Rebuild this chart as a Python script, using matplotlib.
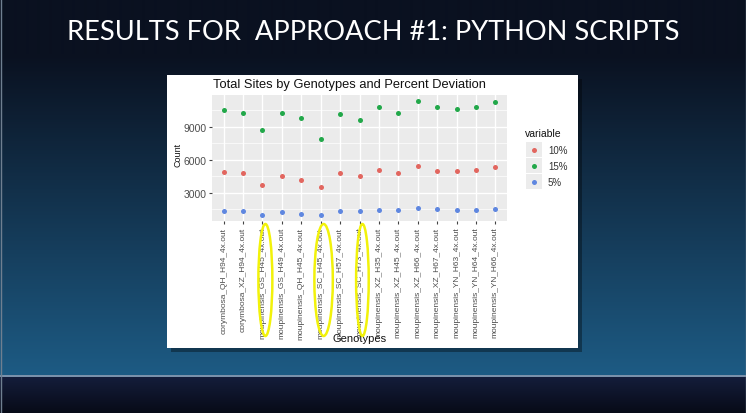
import numpy as np
import matplotlib
matplotlib.use('Agg')
import matplotlib.pyplot as plt
from matplotlib.patches import Rectangle, Ellipse
from matplotlib.transforms import blended_transform_factory
from matplotlib.colors import to_rgb

W, H = 746, 414

genotypes = ['corymbosa_QH_H94_4x.out', 'corymbosa_XZ_H94_4x.out',
             'moupinensis_GS_H45_4x.out', 'moupinensis_GS_H49_4x.out',
             'moupinensis_QH_H45_4x.out', 'moupinensis_SC_H45_4x.out',
             'moupinensis_SC_H57_4x.out', 'moupinensis_SC_H73_4x.out',
             'moupinensis_XZ_H35_4x.out', 'moupinensis_XZ_H45_4x.out',
             'moupinensis_XZ_H66_4x.out', 'moupinensis_XZ_H67_4x.out',
             'moupinensis_YN_H63_4x.out', 'moupinensis_YN_H64_4x.out',
             'moupinensis_YN_H66_4x.out']

pct_10 = [4920, 4770, 3700, 4520, 4190, 3550, 4830, 4490, 5070, 4830, 5470, 4950, 4950, 5070, 5310]
pct_15 = [10490, 10250, 8700, 10250, 9730, 7870, 10130, 9550, 10770, 10250, 11340, 10740, 10580, 10740, 11250]
pct_5 = [1320, 1350, 990, 1230, 1110, 960, 1380, 1320, 1410, 1410, 1600, 1540, 1450, 1450, 1540]

series_names = ['10%', '15%', '5%']
series_vals = [pct_10, pct_15, pct_5]
series_cols = ['#e2665f', '#22a84a', '#5f87e0']

y_ticks = [3000, 6000, 9000]
circled = [2, 5, 7]

plt.rcParams['font.family'] = ['Liberation Sans', 'DejaVu Sans']

fig = plt.figure(figsize=(W / 100, H / 100), dpi=100)

# slide background (pixel coordinates)
bg = fig.add_axes([0, 0, 1, 1])
bg.set_xlim(0, W)
bg.set_ylim(H, 0)
bg.axis('off')

top = np.array(to_rgb('#0a1120'))
mid = np.array(to_rgb('#1d5b84'))
band_top = np.array(to_rgb('#141d3b'))
band_bot = np.array(to_rgb('#070a16'))
grad = np.zeros((H, 1, 3))
for r in range(H):
    if r < 55:
        grad[r, 0] = top
    elif r < 376:
        t = (r - 55) / (376 - 55)
        grad[r, 0] = top + (mid - top) * t
    else:
        t = (r - 378) / (H - 378)
        grad[r, 0] = band_top + (band_bot - band_top) * max(t, 0)
bg.imshow(grad, extent=(0, W, H, 0), aspect='auto', interpolation='bilinear')
bg.plot([0, W], [376.8, 376.8], color='#8fa9c2', lw=1.2)
bg.plot([0.5, 0.5], [0, H], color='#6f7f90', lw=1)
bg.plot([W - 0.5, W - 0.5], [0, H], color='#6f7f90', lw=1)

bg.text(W / 2 + 0.5, 32, 'RESULTS FOR  APPROACH #1: PYTHON SCRIPTS', color='white',
        ha='center', va='center', fontsize=19.6, family=['Lato', 'DejaVu Sans'])

# white picture box with shadow
bg.add_patch(Rectangle((171, 80), 411, 273, color='black', alpha=0.35, lw=0))
bg.add_patch(Rectangle((167, 76), 411, 273, color='white', lw=0))

bg.text(213, 85, 'Total Sites by Genotypes and Percent Deviation', ha='left',
        va='center', fontsize=9.3, color='#111111')
bg.text(359.5, 339, 'Genotypes', ha='center', va='center', fontsize=8, color='#111111')
bg.text(178, 155, 'Count', ha='center', va='center', rotation=90, fontsize=6.5,
        color='#111111')

# legend
bg.text(525, 134, 'variable', ha='left', va='center', fontsize=7.5, color='#111111')
for i, (name, col) in enumerate(zip(series_names, series_cols)):
    yc = 150.7 + 16 * i
    bg.add_patch(Rectangle((525.5, yc - 7.5), 16, 15, color='#ececec', lw=0))
    bg.plot([533.5], [yc], 'o', ms=3.6, color=col, mec='none')
    bg.text(548, yc, name, ha='left', va='center', fontsize=7, color='#333333')

# chart panel
ax = fig.add_axes([212 / W, 1 - 222 / H, 295 / W, 126 / H])
ax.set_facecolor('#EBEBEB')
for s in ax.spines.values():
    s.set_visible(False)

x = np.arange(len(genotypes))
for vals, col in zip(series_vals, series_cols):
    ax.scatter(x, vals, s=13, color=col, linewidths=0, zorder=3)

all_vals = np.concatenate(series_vals)
lo, hi = all_vals.min(), all_vals.max()
pad = 0.05 * (hi - lo)
ax.set_ylim(lo - pad, hi + pad)
ax.set_xlim(-0.6, len(genotypes) - 0.4)

ax.set_yticks(y_ticks)
ax.set_yticklabels([str(v) for v in y_ticks])
ax.set_yticks([1500, 4500, 7500, 10500], minor=True)
ax.set_xticks(x)
ax.set_xticklabels(genotypes, rotation=90, fontsize=6)
ax.tick_params(axis='both', which='major', length=2.5, width=0.8, color='#444444',
               labelcolor='#4D4D4D', pad=1.5)
ax.tick_params(axis='y', labelsize=7.5)
ax.tick_params(which='minor', length=0)
ax.grid(True, which='major', color='white', lw=1.0)
ax.grid(True, which='minor', axis='y', color='white', lw=0.5)
ax.set_axisbelow(True)

# yellow rings around highlighted labels
tr = blended_transform_factory(ax.transData, bg.transData)
for idx, w in zip(circled, [0.72, 0.95, 0.65]):
    ax.add_patch(Ellipse((idx + 0.15, 281), w, 112, transform=tr, fill=False,
                         edgecolor='#f2f20a', lw=1.8, clip_on=False, zorder=5))

fig.savefig('out.png', dpi=100)
